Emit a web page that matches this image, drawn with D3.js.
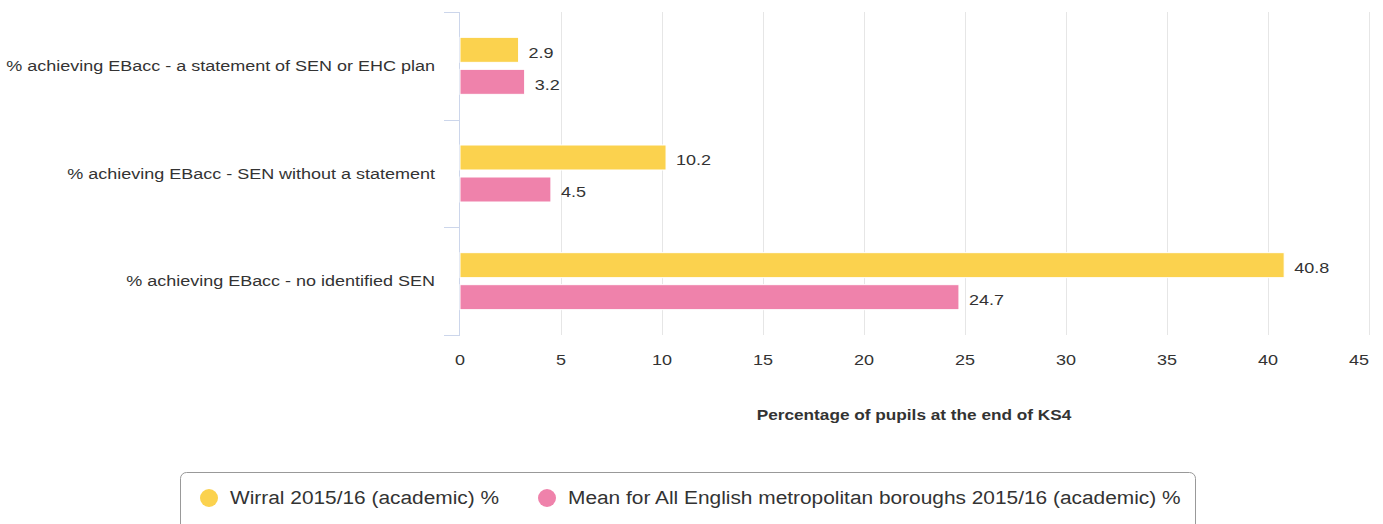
<!DOCTYPE html>
<html>
<head>
<meta charset="utf-8">
<script src="https://cdn.jsdelivr.net/npm/d3@7"></script>
<style>
  body { margin: 0; background: #fff; }
  svg { font-family: "Liberation Sans", Arial, Helvetica, sans-serif; }
</style>
</head>
<body>
<div id="chart"></div>
<script>
// Chart data
const categories = [
    "% achieving EBacc - a statement of SEN or EHC plan",
    "% achieving EBacc - SEN without a statement",
    "% achieving EBacc - no identified SEN"
];
const seriesNames = [
    "Wirral 2015/16 (academic) %",
    "Mean for All English metropolitan boroughs 2015/16 (academic) %"
];
const wirralValues = [2.9, 10.2, 40.8];
const meanValues = [3.2, 4.5, 24.7];
const xTicks = [0, 5, 10, 15, 20, 25, 30, 35, 40, 45];
const axisTitle = "Percentage of pupils at the end of KS4";

const colors = ["#fbd24e", "#ef82ab"];

// the original text is drawn a little wider than plain Arial
const SX = 1.2;

// place a text at (x, y) stretched horizontally
function wideText(parent, x, y, sx) {
    return parent.append("text")
        .attr("transform", `translate(${x},${y}) scale(${sx},1)`)
        .attr("fill", "#333");
}

function drawChart() {
    const W = 1383, H = 524;
    const margin = { top: 12, right: 14, bottom: 189, left: 460 };
    const width = W - margin.left - margin.right;
    const height = H - margin.top - margin.bottom;

    const svg = d3.select("#chart")
        .append("svg")
        .attr("width", W)
        .attr("height", H);

    const g = svg.append("g")
        .attr("transform", `translate(${margin.left},${margin.top})`);

    const x = d3.scaleLinear()
        .domain([0, 45])
        .range([0, width]);

    const y = d3.scaleBand()
        .domain(categories)
        .range([0, height]);

    // two bars per category, 25px each with a 7px gap
    const inner = d3.scaleBand()
        .domain([0, 1])
        .range([0, 57])
        .paddingInner(0.219);

    // Vertical grid lines
    g.selectAll(".grid")
        .data(xTicks.slice(1))
        .enter()
        .append("line")
        .attr("x1", d => Math.round(x(d)) + 0.5)
        .attr("x2", d => Math.round(x(d)) + 0.5)
        .attr("y1", 0)
        .attr("y2", height)
        .attr("stroke", "#e6e6e6")
        .attr("stroke-width", 1);

    // X axis labels (no axis line)
    const xLabels = g.append("g")
        .attr("transform", `translate(0,${height})`);
    xTicks.forEach(t => {
        wideText(xLabels, x(t), 25, SX)
            .attr("dy", "0.35em")
            .attr("text-anchor", t === 45 ? "end" : "middle")
            .attr("font-size", 15)
            .text(t);
    });

    // Y axis with category tick marks between bands
    const yAxis = g.append("g");
    yAxis.append("line")
        .attr("x1", -0.5).attr("x2", -0.5)
        .attr("y1", 0).attr("y2", height)
        .attr("stroke", "#ccd6eb");
    const bounds = categories.map(c => y(c)).concat([height]);
    yAxis.selectAll(".ytick")
        .data(bounds)
        .enter()
        .append("line")
        .attr("x1", -16).attr("x2", 0)
        .attr("y1", d => Math.round(d) + 0.5).attr("y2", d => Math.round(d) + 0.5)
        .attr("stroke", "#ccd6eb");
    categories.forEach(c => {
        wideText(yAxis, -25, y(c) + y.bandwidth() / 2, SX)
            .attr("dy", "0.35em")
            .attr("text-anchor", "end")
            .attr("font-size", 15)
            .text(c);
    });

    // Bars
    const seriesData = [wirralValues, meanValues];
    const off = (y.bandwidth() - 57) / 2;
    seriesData.forEach((values, si) => {
        const sel = g.append("g").attr("fill", colors[si]);
        sel.selectAll("rect")
            .data(values)
            .enter()
            .append("rect")
            .attr("x", 0)
            .attr("y", (d, i) => y(categories[i]) + off + inner(si))
            .attr("width", d => x(d))
            .attr("height", inner.bandwidth())
            .attr("stroke", "#fff")
            .attr("stroke-width", 1);
        values.forEach((v, i) => {
            wideText(g, x(v) + 10, y(categories[i]) + off + inner(si) + inner.bandwidth() / 2 + 2.5, SX)
                .attr("dy", "0.35em")
                .attr("font-size", 15)
                .text(v.toFixed(1));
        });
    });

    // Axis title
    wideText(svg, 914, 420, 1.23)
        .attr("text-anchor", "middle")
        .attr("font-size", 14)
        .attr("font-weight", "bold")
        .text(axisTitle);

    // Legend
    const legend = svg.append("g");
    legend.append("rect")
        .attr("x", 180.5).attr("y", 472.5)
        .attr("width", 1015).attr("height", 60)
        .attr("rx", 6)
        .attr("fill", "none")
        .attr("stroke", "#999");

    const legendX = [209, 547];
    seriesNames.forEach((name, i) => {
        legend.append("circle")
            .attr("cx", legendX[i])
            .attr("cy", 498)
            .attr("r", 9)
            .attr("fill", colors[i]);
        wideText(legend, legendX[i] + 21, 498, 1.16)
            .attr("dy", "0.35em")
            .attr("font-size", 18)
            .text(name);
    });
}

drawChart();
</script>
</body>
</html>
